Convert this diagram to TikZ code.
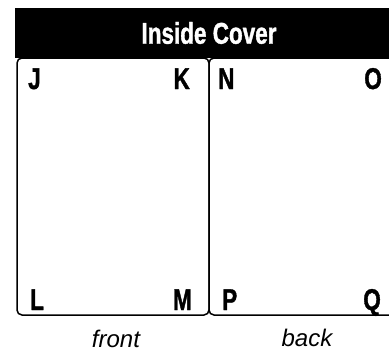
\documentclass[tikz,border=0pt]{standalone}
\usepackage{fontspec}
\newfontfamily\labfont[FakeStretch=0.75, FakeBold=1.2]{Liberation Sans}
\newfontfamily\capfont{Liberation Sans}

\begin{document}
\begin{tikzpicture}[
  x=1pt, y=-1pt,
  panel/.style={rectangle, draw, line width=1.5pt, rounded corners=5pt},
  header/.style={rectangle, fill=black, text=white, inner sep=0pt,
                 minimum width=388pt, minimum height=50pt,
                 font=\labfont\bfseries\fontsize{30}{32}\selectfont},
  corner/.style={inner sep=0pt, font=\labfont\bfseries\fontsize{30}{32}\selectfont},
  side/.style={inner sep=0pt, font=\capfont\itshape\fontsize{24}{26}\selectfont}
]
  \clip (0,0) rectangle (389,354);

  % Panels
  \draw[panel] (17,58) rectangle (209,315);
  \draw[panel] (209,58) rectangle (401,315);

  % Header
  \node[header] (title) at (209,33) {Inside Cover};

  % Corner letters
  \node[corner, anchor=base west] (J) at (28,89) {J};
  \node[corner, anchor=base east] (K) at (190,89) {K};
  \node[corner, anchor=base west] (L) at (30,310) {L};
  \node[corner, anchor=base east] (M) at (192,310) {M};
  \node[corner, anchor=base west] (N) at (218,89) {N};
  \node[corner, anchor=base east] (O) at (382,89) {O};
  \node[corner, anchor=base west] (P) at (222,310) {P};
  \node[corner, anchor=base east] (Q) at (381,310) {Q};

  % Captions
  \node[side, anchor=base] (front) at (116,347) {front};
  \node[side, anchor=base] (back) at (307,346) {back};
\end{tikzpicture}
\end{document}
